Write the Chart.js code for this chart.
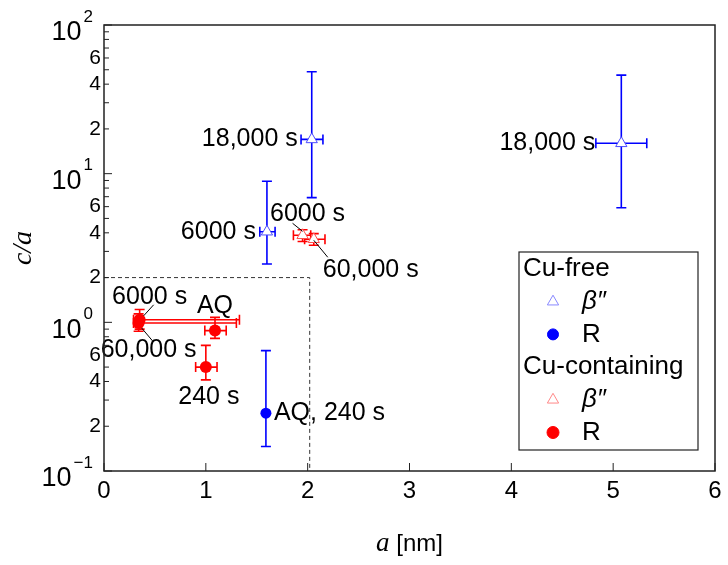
<!DOCTYPE html>
<html>
<head>
<meta charset="utf-8">
<script src="https://cdn.jsdelivr.net/npm/chart.js@4.4.0/dist/chart.umd.min.js"></script>
<style>
  html, body { margin: 0; padding: 0; background: #fff; }
  #wrap { width: 728px; height: 565px; }
</style>
</head>
<body>
<div id="wrap"><canvas id="chart" width="728" height="565"></canvas></div>
<script>
// ---- values ----
const xTicks = [0, 1, 2, 3, 4, 5, 6];
const yMajor = [0.1, 1, 10, 100];
const yMajorExp = ['\u22121', '0', '1', '2'];
const yMinor = [0.2, 0.3, 0.4, 0.5, 0.6, 0.7, 0.8, 0.9, 2, 3, 4, 5, 6, 7, 8, 9, 20, 30, 40, 50, 60, 70, 80, 90];
const yMinorLabelled = [0.2, 0.4, 0.6, 2, 4, 6, 20, 40, 60];
const yMinorText = ['2', '4', '6', '2', '4', '6', '2', '4', '6'];

// dashed "zoom" box in the lower left
const boxA = 2.02;
const boxCA = 2;

// Cu-free, beta''
const freeBetaLabels = ['6000 s', '18,000 s', '18,000 s'];
const freeBetaA   = [1.60, 2.04, 5.08];
const freeBetaCA  = [4.07, 17.0, 16.0];
const freeBetaALo = [1.53, 1.935, 4.83];
const freeBetaAHi = [1.68, 2.15, 5.33];
const freeBetaCALo = [2.47, 6.9, 5.9];
const freeBetaCAHi = [8.9, 48.5, 46.0];

// Cu-free, R
const freeRLabels = ['AQ, 240 s'];
const freeRA    = [1.59];
const freeRCA   = [0.245];
const freeRALo  = [1.59];
const freeRAHi  = [1.59];
const freeRCALo = [0.146];
const freeRCAHi = [0.645];

// Cu-containing, beta''
const cuBetaLabels = ['6000 s', '60,000 s'];
const cuBetaA    = [1.95, 2.06];
const cuBetaCA   = [3.85, 3.62];
const cuBetaALo  = [1.86, 1.97];
const cuBetaAHi  = [2.03, 2.17];
const cuBetaCALo = [3.5, 3.3];
const cuBetaCAHi = [4.2, 3.95];

// Cu-containing, R
const cuRLabels = ['AQ', '240 s', '6000 s', '60,000 s'];
const cuRA    = [1.09, 1.00, 0.35, 0.34];
const cuRCA   = [0.88, 0.50, 1.04, 0.99];
const cuRALo  = [0.99, 0.90, 0.29, 0.29];
const cuRAHi  = [1.20, 1.11, 1.33, 1.30];
const cuRCALo = [0.78, 0.41, 0.90, 0.87];
const cuRCAHi = [1.08, 0.70, 1.22, 1.14];

const BLUE = '#0000ff';
const RED = '#ff0000';
const SANS = '"Liberation Sans", Arial, sans-serif';
const SERIF = '"Liberation Serif", "Times New Roman", serif';

// label placement per point: [dx, dy, align, leader(x1,y1,x2,y2) or null]
const freeBetaNote = [[-11, 0, 'right', null], [-14, 0, 'right', null], [-26, 0, 'right', null]];
const freeRNote = [[8, 0, 'left', null]];
const cuBetaNote = [[5, -21, 'center', [-10, -12, 0, -4]], [9, 31, 'left', [0, 1, 14, 18]]];
const cuRNote = [[0, -24, 'center', null], [3, 30, 'center', null],
                 [10, -23, 'center', [14, -15, 4, -4]], [10, 27, 'center', [3, 5, 14, 18]]];

function toPoints(a, ca) {
    return a.map((v, i) => ({ x: v, y: ca[i] }));
}

const datasets = [
    {
        label: "Cu-free \u03b2\u2033",
        data: toPoints(freeBetaA, freeBetaCA),
        err: { xLo: freeBetaALo, xHi: freeBetaAHi, yLo: freeBetaCALo, yHi: freeBetaCAHi },
        notes: freeBetaLabels, place: freeBetaNote,
        pointStyle: 'triangle', pointRadius: 6.5, borderWidth: 1,
        borderColor: '#4d4dff', backgroundColor: '#ffffff', color: BLUE
    },
    {
        label: 'Cu-free R',
        data: toPoints(freeRA, freeRCA),
        err: { xLo: freeRALo, xHi: freeRAHi, yLo: freeRCALo, yHi: freeRCAHi },
        notes: freeRLabels, place: freeRNote,
        pointStyle: 'circle', pointRadius: 5.5, borderWidth: 0,
        borderColor: BLUE, backgroundColor: BLUE, color: BLUE
    },
    {
        label: "Cu-containing \u03b2\u2033",
        data: toPoints(cuBetaA, cuBetaCA),
        err: { xLo: cuBetaALo, xHi: cuBetaAHi, yLo: cuBetaCALo, yHi: cuBetaCAHi },
        notes: cuBetaLabels, place: cuBetaNote,
        pointStyle: 'triangle', pointRadius: 6.5, borderWidth: 1,
        borderColor: '#ff4d4d', backgroundColor: '#ffffff', color: RED
    },
    {
        label: 'Cu-containing R',
        data: toPoints(cuRA, cuRCA),
        err: { xLo: cuRALo, xHi: cuRAHi, yLo: cuRCALo, yHi: cuRCAHi },
        notes: cuRLabels, place: cuRNote,
        pointStyle: 'circle', pointRadius: 6, borderWidth: 0,
        borderColor: RED, backgroundColor: RED, color: RED
    }
];

const plotBits = {
    id: 'plotBits',
    beforeDatasetsDraw(chart) {
        const ctx = chart.ctx;
        const xs = chart.scales.x, ys = chart.scales.y;
        const area = chart.chartArea;

        // dashed box
        ctx.save();
        ctx.strokeStyle = '#333';
        ctx.lineWidth = 1;
        ctx.setLineDash([4, 3]);
        const bx = xs.getPixelForValue(boxA), by = ys.getPixelForValue(boxCA);
        ctx.beginPath();
        ctx.moveTo(area.left, by);
        ctx.lineTo(bx, by);
        ctx.lineTo(bx, area.bottom);
        ctx.stroke();
        ctx.restore();

        // error bars
        const cap = 5;
        chart.data.datasets.forEach(ds => {
            ctx.save();
            ctx.strokeStyle = ds.color;
            ctx.lineWidth = 1.6;
            ds.data.forEach((p, i) => {
                const px = xs.getPixelForValue(p.x), py = ys.getPixelForValue(p.y);
                const y1 = ys.getPixelForValue(ds.err.yLo[i]), y2 = ys.getPixelForValue(ds.err.yHi[i]);
                ctx.beginPath();
                ctx.moveTo(px, y1); ctx.lineTo(px, y2);
                ctx.moveTo(px - cap, y1); ctx.lineTo(px + cap, y1);
                ctx.moveTo(px - cap, y2); ctx.lineTo(px + cap, y2);
                ctx.stroke();
                if (ds.err.xLo[i] !== ds.err.xHi[i]) {
                    const x1 = xs.getPixelForValue(ds.err.xLo[i]), x2 = xs.getPixelForValue(ds.err.xHi[i]);
                    ctx.beginPath();
                    ctx.moveTo(x1, py); ctx.lineTo(x2, py);
                    ctx.moveTo(x1, py - cap); ctx.lineTo(x1, py + cap);
                    ctx.moveTo(x2, py - cap); ctx.lineTo(x2, py + cap);
                    ctx.stroke();
                }
            });
            ctx.restore();
        });
    },
    afterDatasetsDraw(chart) {
        const ctx = chart.ctx;
        const xs = chart.scales.x, ys = chart.scales.y;
        ctx.save();
        ctx.fillStyle = '#000';
        ctx.font = '25px ' + SANS;
        ctx.textBaseline = 'middle';
        chart.data.datasets.forEach(ds => {
            ds.data.forEach((p, i) => {
                const px = xs.getPixelForValue(p.x), py = ys.getPixelForValue(p.y);
                const [dx, dy, align, lead] = ds.place[i];
                ctx.textAlign = align;
                ctx.fillText(ds.notes[i], px + dx, py + dy);
                if (lead) {
                    ctx.strokeStyle = '#000';
                    ctx.lineWidth = 1;
                    ctx.beginPath();
                    ctx.moveTo(px + lead[0], py + lead[1]);
                    ctx.lineTo(px + lead[2], py + lead[3]);
                    ctx.stroke();
                }
            });
        });
        ctx.restore();
    },
    afterDraw(chart) {
        const ctx = chart.ctx;
        const xs = chart.scales.x, ys = chart.scales.y;
        const a = chart.chartArea;
        ctx.save();

        // frame
        ctx.strokeStyle = '#222';
        ctx.lineWidth = 1.5;
        ctx.strokeRect(a.left, a.top, a.right - a.left, a.bottom - a.top);

        // inward ticks
        ctx.lineWidth = 1;
        ctx.beginPath();
        xTicks.forEach(v => {
            const px = xs.getPixelForValue(v);
            ctx.moveTo(px, a.bottom); ctx.lineTo(px, a.bottom - 8);
        });
        yMajor.forEach(v => {
            const py = ys.getPixelForValue(v);
            ctx.moveTo(a.left, py); ctx.lineTo(a.left + 8, py);
        });
        yMinor.forEach(v => {
            const py = ys.getPixelForValue(v);
            ctx.moveTo(a.left, py); ctx.lineTo(a.left + 5, py);
        });
        ctx.stroke();

        // tick labels
        ctx.fillStyle = '#000';
        ctx.textBaseline = 'middle';
        ctx.textAlign = 'center';
        ctx.font = '24px ' + SANS;
        xTicks.forEach(v => ctx.fillText(String(v), xs.getPixelForValue(v), a.bottom + 20));

        ctx.textAlign = 'right';
        ctx.font = '21px ' + SANS;
        yMinorLabelled.forEach((v, i) => ctx.fillText(yMinorText[i], a.left - 3, ys.getPixelForValue(v)));

        yMajor.forEach((v, i) => {
            const py = ys.getPixelForValue(v);
            ctx.font = '17px ' + SANS;
            const supW = ctx.measureText(yMajorExp[i]).width;
            const right = 93;
            ctx.textAlign = 'right';
            ctx.fillText(yMajorExp[i], right, py - 8);
            ctx.font = '27px ' + SANS;
            ctx.fillText('10', right - supW - 2, py + 8);
        });

        // axis titles
        ctx.textAlign = 'left';
        ctx.font = 'italic 27px ' + SERIF;
        const aW = ctx.measureText('a').width;
        ctx.font = '24px ' + SANS;
        const nmW = ctx.measureText(' [nm]').width;
        const cx = (a.left + a.right) / 2;
        let tx = cx - (aW + nmW) / 2;
        ctx.font = 'italic 27px ' + SERIF;
        ctx.fillText('a', tx, a.bottom + 73);
        ctx.font = '24px ' + SANS;
        ctx.fillText(' [nm]', tx + aW, a.bottom + 73);

        ctx.save();
        ctx.translate(24, (a.top + a.bottom) / 2);
        ctx.rotate(-Math.PI / 2);
        ctx.textAlign = 'center';
        ctx.font = 'italic 28px ' + SERIF;
        ctx.fillText('c/a', 0, 0);
        ctx.restore();

        // legend
        const lx = 519, ly = 252, lw = 179, lh = 198;
        ctx.fillStyle = '#fff';
        ctx.fillRect(lx, ly, lw, lh);
        ctx.strokeStyle = '#222';
        ctx.lineWidth = 1.2;
        ctx.strokeRect(lx, ly, lw, lh);
        const rows = [
            { head: 'Cu-free' },
            { ds: 0, text: '\u03b2\u2033', italic: true },
            { ds: 1, text: 'R' },
            { head: 'Cu-containing' },
            { ds: 2, text: '\u03b2\u2033', italic: true },
            { ds: 3, text: 'R' }
        ];
        ctx.textBaseline = 'middle';
        ctx.textAlign = 'left';
        rows.forEach((r, i) => {
            const y = ly + 17 + i * 32.7;
            ctx.fillStyle = '#000';
            if (r.head) {
                ctx.font = '26px ' + SANS;
                ctx.fillText(r.head, lx + 4, y);
            } else {
                const ds = chart.data.datasets[r.ds];
                ctx.fillStyle = ds.backgroundColor;
                ctx.strokeStyle = ds.pointStyle === 'triangle' ? (r.ds === 0 ? '#8888ff' : '#ff8888') : ds.borderColor;
                ctx.lineWidth = 1;
                Chart.helpers.drawPoint(ctx, { pointStyle: ds.pointStyle, radius: ds.pointRadius, rotation: 0, borderWidth: 1 }, lx + 34, y);
                ctx.fillStyle = '#000';
                ctx.font = (r.italic ? 'italic ' : '') + '26px ' + SANS;
                ctx.fillText(r.text, lx + 63, y);
            }
        });

        ctx.restore();
    }
};

new Chart(document.getElementById('chart'), {
    type: 'scatter',
    data: { datasets: datasets },
    options: {
        responsive: false,
        animation: false,
        layout: { padding: { left: 0, right: 13, top: 25, bottom: 0 } },
        plugins: { legend: { display: false }, tooltip: { enabled: false } },
        scales: {
            x: {
                type: 'linear', min: 0, max: 6,
                ticks: { display: false, stepSize: 1 },
                grid: { display: false },
                border: { display: false },
                afterFit: s => { s.height = 94; }
            },
            y: {
                type: 'logarithmic', min: 0.1, max: 100,
                ticks: { display: false },
                grid: { display: false },
                border: { display: false },
                afterFit: s => { s.width = 104; }
            }
        }
    },
    plugins: [plotBits]
});
</script>
</body>
</html>
